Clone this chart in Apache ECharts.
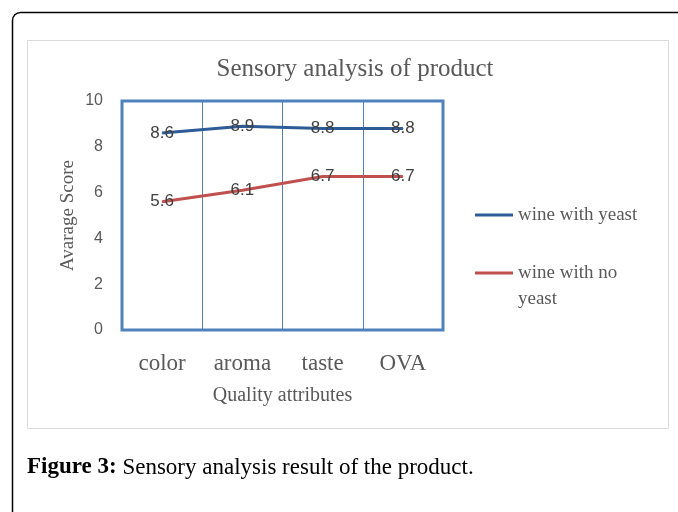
<!DOCTYPE html>
<html lang="en">
<head>
    <meta charset="UTF-8">
    <title>Sensory analysis of product</title>
    <script src="https://cdn.jsdelivr.net/npm/echarts@6/dist/echarts.min.js"></script>
</head>
<style>
    *{
        margin: 0;
        padding: 0;
    }
    html , body{
        overflow: hidden;
        height: 100%;
        width: 100%;
        background: #fff;
    }
    .contain{
        width: 678px;
        height: 512px;
    }
</style>
<body>
<div class="contain"></div>
<script>
    // data
    let attributes = ['color', 'aroma', 'taste', 'OVA'];
    let withYeast = [8.6, 8.9, 8.8, 8.8];
    let noYeast = [5.6, 6.1, 6.7, 6.7];
    let seriesNames = ['wine with yeast', 'wine with no yeast'];
    let yTicks = {min: 0, max: 10, interval: 2};

    let serif = '"Liberation Serif", "DejaVu Serif", serif';
    let sans = '"Liberation Sans", Arial, sans-serif';

    let chart = echarts.init(document.querySelector('.contain'));

    function lineSeries(name, values, color) {
        return {
            name: name,
            type: 'line',
            data: values,
            symbol: 'circle',
            symbolSize: 1,
            itemStyle: {color: color},
            lineStyle: {color: color, width: 3},
            label: {
                show: true,
                position: 'inside',
                color: '#404040',
                fontFamily: sans,
                fontSize: 17
            },
            emphasis: {disabled: true}
        };
    }

    let option = {
        animation: false,
        title: {
            text: 'Sensory analysis of product',
            left: 350,
            textAlign: 'center',
            top: 52,
            textStyle: {
                fontFamily: serif,
                fontWeight: 'normal',
                fontSize: 25,
                color: '#595959'
            }
        },
        grid: {
            left: 122,
            right: 235,
            top: 101,
            bottom: 182,
            show: true,
            borderColor: '#4F81BD',
            borderWidth: 3,
            backgroundColor: 'transparent'
        },
        legend: [{
            data: [seriesNames[0]],
            left: 470,
            top: 197,
            itemWidth: 38,
            itemHeight: 3,
            icon: 'rect',
            textStyle: {fontFamily: serif, fontSize: 19, color: '#595959', lineHeight: 26}
        }, {
            data: [seriesNames[1]],
            left: 470,
            top: 229,
            itemWidth: 38,
            itemHeight: 3,
            icon: 'rect',
            // blank first line keeps the icon level with "wine with no"
            formatter: function (name) {
                return ' \nwine with no\nyeast';
            },
            textStyle: {fontFamily: serif, fontSize: 19, color: '#595959', lineHeight: 26}
        }],
        xAxis: {
            type: 'category',
            data: attributes,
            boundaryGap: true,
            name: 'Quality attributes',
            nameLocation: 'middle',
            nameGap: 56,
            nameTextStyle: {fontFamily: serif, fontSize: 20, color: '#595959'},
            axisLine: {show: false},
            axisTick: {show: false},
            axisLabel: {fontFamily: serif, fontSize: 23, color: '#595959', margin: 22},
            splitLine: {show: true, lineStyle: {color: '#4F81BD', width: 1}}
        },
        yAxis: {
            type: 'value',
            min: yTicks.min,
            max: yTicks.max,
            interval: yTicks.interval,
            name: 'Avarage Score',
            nameLocation: 'middle',
            nameGap: 44,
            nameTextStyle: {fontFamily: serif, fontSize: 19, color: '#595959'},
            axisLine: {show: false},
            axisTick: {show: false},
            splitLine: {show: false},
            axisLabel: {fontFamily: sans, fontSize: 16, color: '#595959', margin: 19}
        },
        graphic: [{
            type: 'rect',
            shape: {x: 12.5, y: 12.5, width: 700, height: 520, r: 8},
            style: {fill: 'none', stroke: '#000', lineWidth: 1.5},
            silent: true
        }, {
            type: 'rect',
            shape: {x: 27.5, y: 40.5, width: 641, height: 388},
            style: {fill: 'none', stroke: '#d9d9d9', lineWidth: 1},
            silent: true
        }, {
            type: 'text',
            left: 27,
            top: 456,
            style: {
                text: '{b|Figure 3:} Sensory analysis result of the product.',
                fontFamily: serif,
                fontSize: 23,
                fill: '#000',
                rich: {
                    b: {fontFamily: serif, fontSize: 23, fontWeight: 'bold', fill: '#000'}
                }
            }
        }],
        series: [
            lineSeries(seriesNames[0], withYeast, '#2E5C99'),
            lineSeries(seriesNames[1], noYeast, '#C0504D')
        ]
    };

    chart.setOption(option);
</script>
</body>
</html>
